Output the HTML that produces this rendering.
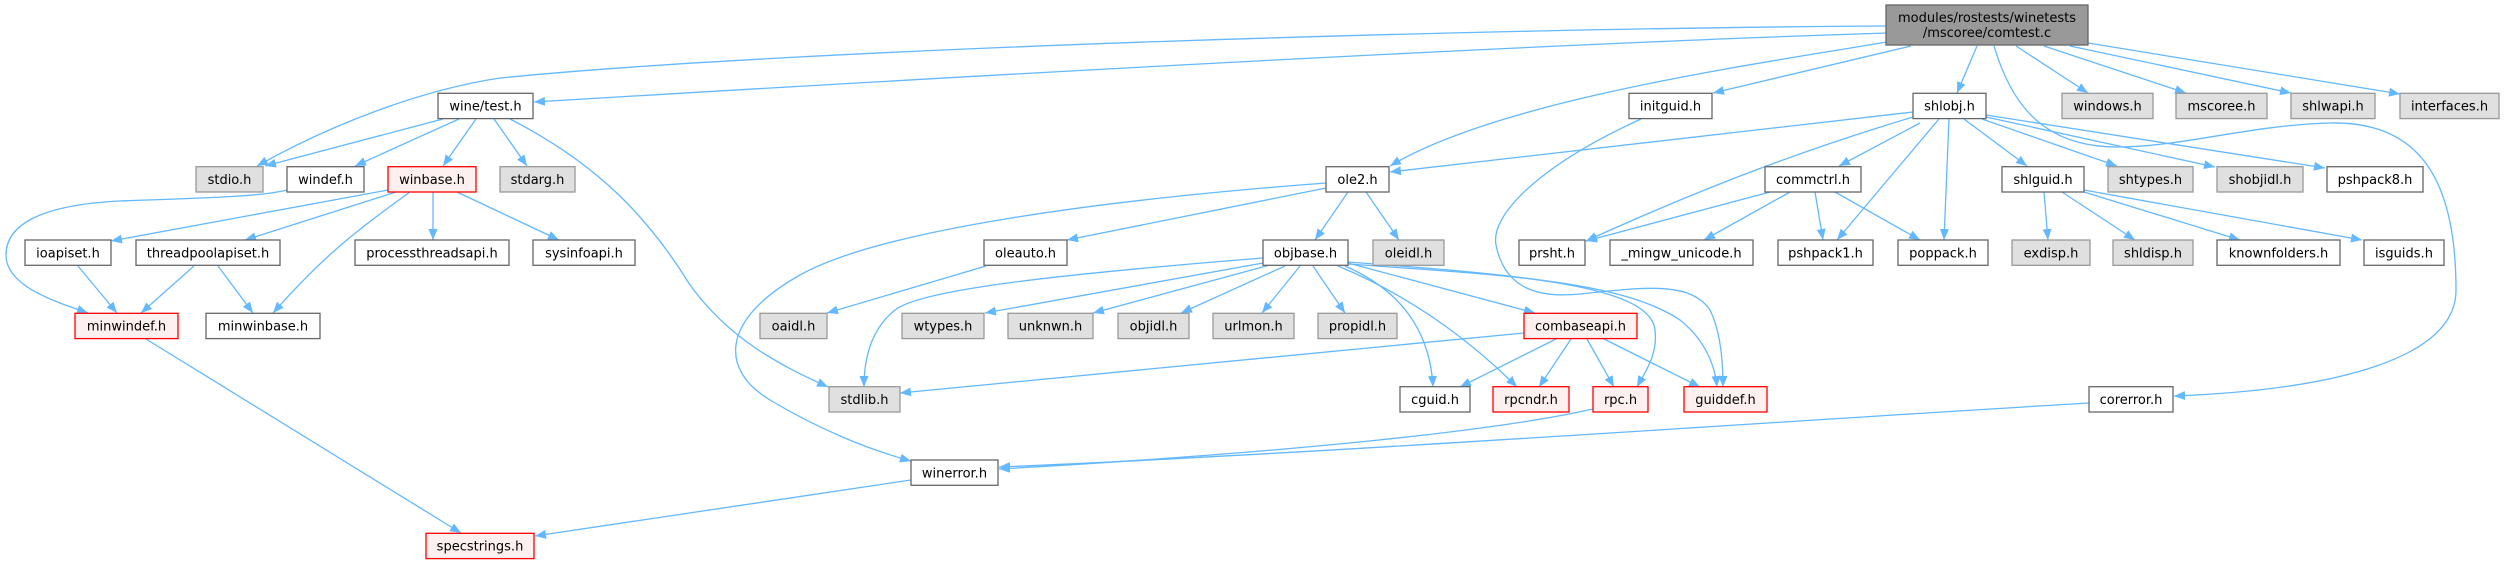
<!DOCTYPE html>
<html><head><meta charset="utf-8"><style>
html,body{margin:0;padding:0;background:#fff;}
svg{display:block;}
text{font-family:"DejaVu Sans","Liberation Sans",sans-serif;font-size:13px;fill:#000;text-anchor:middle;}
.e{fill:none;stroke:#63b8ff;stroke-width:1.3;marker-end:url(#a);}
.w{fill:#fff;stroke:#666;stroke-width:1.3;}
.g{fill:#e0e0e0;stroke:#999;stroke-width:1.3;}
.r{fill:#fff0f0;stroke:#ff0000;stroke-width:1.3;}
.m{fill:#999;stroke:#666;stroke-width:1.3;}
</style></head><body>
<svg width="2504" height="564" viewBox="0 0 2504 564" xmlns="http://www.w3.org/2000/svg">
<defs><marker id="a" markerWidth="12" markerHeight="10" refX="11" refY="4.5" orient="auto" markerUnits="userSpaceOnUse"><path d="M0,0 L11,4.5 L0,9 z" fill="#63b8ff"/></marker></defs>
<g>
<path class="e" d="M1887,26 C1500,28 800,48 500,78 C420,90 330,125 257,166"/>
<path class="e" d="M1887,33 C1500,45 900,80 534,102"/>
<path class="e" d="M1887,42 C1750,65 1500,100 1390,166"/>
<path class="e" d="M1911,46 L1713,93"/>
<path class="e" d="M1977,46 L1957,93"/>
<path class="e" d="M2016,46 L2088,93"/>
<path class="e" d="M2044,46 L2186,93"/>
<path class="e" d="M2070,46 L2291,93"/>
<path class="e" d="M2088,43 L2400,94"/>
<path class="e" d="M1994,46 C2010,100 2040,147 2117,147 C2182,147 2250,125 2330,123 C2420,121 2456,180 2456,290 C2456,360 2330,390 2174,396"/>
<path class="e" d="M443,119 L265,166"/>
<path class="e" d="M459,119 L355,166"/>
<path class="e" d="M476,119 L443,166"/>
<path class="e" d="M494,119 L527,166"/>
<path class="e" d="M510,119 C600,165 650,220 690,285 C730,340 780,365 828,387"/>
<path class="e" d="M287,190 C260,197 200,198 120,201 C40,205 6,225 6,255 C6,285 50,300 88,313"/>
<path class="e" d="M388,190 L111,241"/>
<path class="e" d="M396,192 L245,240"/>
<path class="e" d="M410,192 C350,235 320,260 273,313"/>
<path class="e" d="M433,192 L433,240"/>
<path class="e" d="M457,192 L559,240"/>
<path class="e" d="M78,266 L117,313"/>
<path class="e" d="M194,266 L141,313"/>
<path class="e" d="M218,266 L253,313"/>
<path class="e" d="M146,339 L461,533"/>
<path class="e" d="M1348,192 L1315,240"/>
<path class="e" d="M1366,192 L1399,240"/>
<path class="e" d="M1326,188 L1067,240"/>
<path class="e" d="M1326,183 C1100,200 880,230 800,275 C720,320 720,370 770,400 C820,430 870,450 911,461"/>
<path class="e" d="M986,266 L827,313"/>
<path class="e" d="M1263,258 C1050,275 920,290 895,310 C870,330 864,360 864,387"/>
<path class="e" d="M1263,263 L985,313"/>
<path class="e" d="M1270,265 L1093,313"/>
<path class="e" d="M1285,266 L1181,313"/>
<path class="e" d="M1300,266 L1262,313"/>
<path class="e" d="M1313,266 L1345,313"/>
<path class="e" d="M1345,266 C1400,290 1430,330 1433,387"/>
<path class="e" d="M1338,266 C1420,300 1480,350 1517,387"/>
<path class="e" d="M1348,263 L1535,313"/>
<path class="e" d="M1348,262 C1520,275 1650,285 1655,330 C1658,355 1645,372 1637,387"/>
<path class="e" d="M1348,264 C1500,275 1620,280 1680,320 C1705,340 1715,365 1717,387"/>
<path class="e" d="M1641,119 C1540,165 1490,215 1496,245 C1505,290 1540,298 1580,294 C1640,288 1690,280 1710,310 C1720,330 1723,360 1723,387"/>
<path class="e" d="M1524,333 L900,393"/>
<path class="e" d="M1556,339 L1460,387"/>
<path class="e" d="M1571,339 L1539,387"/>
<path class="e" d="M1587,339 L1614,387"/>
<path class="e" d="M1604,339 L1700,387"/>
<path class="e" d="M1593,409 C1500,430 1300,452 999,469"/>
<path class="e" d="M2089,403 C1800,420 1300,455 999,467"/>
<path class="e" d="M911,480 L535,536"/>
<path class="e" d="M1913,112 L1390,172"/>
<path class="e" d="M1913,117 C1820,145 1720,180 1586,241"/>
<path class="e" d="M1920,123 L1839,166"/>
<path class="e" d="M1939,119 L1837,240"/>
<path class="e" d="M1949,119 L1944,240"/>
<path class="e" d="M1964,119 L2027,166"/>
<path class="e" d="M1982,119 L2117,166"/>
<path class="e" d="M1986,117 L2215,167"/>
<path class="e" d="M1986,115 L2325,168"/>
<path class="e" d="M1770,192 L1586,241"/>
<path class="e" d="M1790,192 L1704,240"/>
<path class="e" d="M1815,192 L1823,240"/>
<path class="e" d="M1835,192 L1920,240"/>
<path class="e" d="M2044,192 L2048,240"/>
<path class="e" d="M2062,192 L2135,240"/>
<path class="e" d="M2084,192 L2240,240"/>
<path class="e" d="M2084,190 L2362,240"/>
</g>
<g>
<rect class="m" x="1886" y="5" width="202" height="40"/>
<text x="1987" y="22">modules/rostests/winetests</text>
<text x="1987" y="37">/mscoree/comtest.c</text>

<rect class="w" x="438" y="93.3" width="95" height="25.3"/><text x="485.5" y="110.6">wine/test.h</text>
<rect class="w" x="1629" y="93.3" width="83" height="25.3"/><text x="1670.5" y="110.6">initguid.h</text>
<rect class="w" x="1913" y="93.3" width="73" height="25.3"/><text x="1949.5" y="110.6">shlobj.h</text>
<rect class="g" x="2062" y="93.3" width="91" height="25.3"/><text x="2107.5" y="110.6">windows.h</text>
<rect class="g" x="2176" y="93.3" width="91" height="25.3"/><text x="2221.5" y="110.6">mscoree.h</text>
<rect class="g" x="2291" y="93.3" width="84" height="25.3"/><text x="2333" y="110.6">shlwapi.h</text>
<rect class="g" x="2400" y="93.3" width="99" height="25.3"/><text x="2449.5" y="110.6">interfaces.h</text>

<rect class="g" x="196" y="166.7" width="67" height="25.3"/><text x="229.5" y="184">stdio.h</text>
<rect class="w" x="287" y="166.7" width="77" height="25.3"/><text x="325.5" y="184">windef.h</text>
<rect class="r" x="388" y="166.7" width="88" height="25.3"/><text x="432" y="184">winbase.h</text>
<rect class="g" x="500" y="166.7" width="75" height="25.3"/><text x="537.5" y="184">stdarg.h</text>
<rect class="w" x="1326" y="166.7" width="63" height="25.3"/><text x="1357.5" y="184">ole2.h</text>
<rect class="w" x="1765" y="166.7" width="96" height="25.3"/><text x="1813" y="184">commctrl.h</text>
<rect class="w" x="2002" y="166.7" width="82" height="25.3"/><text x="2043" y="184">shlguid.h</text>
<rect class="g" x="2108" y="166.7" width="85" height="25.3"/><text x="2150.5" y="184">shtypes.h</text>
<rect class="g" x="2217" y="166.7" width="86" height="25.3"/><text x="2260" y="184">shobjidl.h</text>
<rect class="w" x="2327" y="166.7" width="96" height="25.3"/><text x="2375" y="184">pshpack8.h</text>

<rect class="w" x="25" y="240" width="86" height="25.3"/><text x="68" y="257.3">ioapiset.h</text>
<rect class="w" x="136" y="240" width="144" height="25.3"/><text x="208" y="257.3">threadpoolapiset.h</text>
<rect class="w" x="355" y="240" width="154" height="25.3"/><text x="432" y="257.3">processthreadsapi.h</text>
<rect class="w" x="533" y="240" width="102" height="25.3"/><text x="584" y="257.3">sysinfoapi.h</text>
<rect class="w" x="984" y="240" width="83" height="25.3"/><text x="1025.5" y="257.3">oleauto.h</text>
<rect class="w" x="1263" y="240" width="85" height="25.3"/><text x="1305.5" y="257.3">objbase.h</text>
<rect class="g" x="1373" y="240" width="71" height="25.3"/><text x="1408.5" y="257.3">oleidl.h</text>
<rect class="w" x="1519" y="240" width="66" height="25.3"/><text x="1552" y="257.3">prsht.h</text>
<rect class="w" x="1610" y="240" width="143" height="25.3"/><text x="1681.5" y="257.3">_mingw_unicode.h</text>
<rect class="w" x="1778" y="240" width="95" height="25.3"/><text x="1825.5" y="257.3">pshpack1.h</text>
<rect class="w" x="1898" y="240" width="90" height="25.3"/><text x="1943" y="257.3">poppack.h</text>
<rect class="g" x="2012" y="240" width="78" height="25.3"/><text x="2051" y="257.3">exdisp.h</text>
<rect class="g" x="2113" y="240" width="80" height="25.3"/><text x="2153" y="257.3">shldisp.h</text>
<rect class="w" x="2217" y="240" width="123" height="25.3"/><text x="2278.5" y="257.3">knownfolders.h</text>
<rect class="w" x="2364" y="240" width="80" height="25.3"/><text x="2404" y="257.3">isguids.h</text>

<rect class="r" x="75" y="313.3" width="103" height="25.3"/><text x="126.5" y="330.6">minwindef.h</text>
<rect class="w" x="206" y="313.3" width="114" height="25.3"/><text x="263" y="330.6">minwinbase.h</text>
<rect class="g" x="760" y="313.3" width="67" height="25.3"/><text x="793.5" y="330.6">oaidl.h</text>
<rect class="g" x="902" y="313.3" width="82" height="25.3"/><text x="943" y="330.6">wtypes.h</text>
<rect class="g" x="1008" y="313.3" width="85" height="25.3"/><text x="1050.5" y="330.6">unknwn.h</text>
<rect class="g" x="1118" y="313.3" width="71" height="25.3"/><text x="1153.5" y="330.6">objidl.h</text>
<rect class="g" x="1213" y="313.3" width="81" height="25.3"/><text x="1253.5" y="330.6">urlmon.h</text>
<rect class="g" x="1318" y="313.3" width="79" height="25.3"/><text x="1357.5" y="330.6">propidl.h</text>
<rect class="r" x="1524" y="313.3" width="113" height="25.3"/><text x="1580.5" y="330.6">combaseapi.h</text>

<rect class="g" x="829" y="386.7" width="71" height="25.3"/><text x="864.5" y="404">stdlib.h</text>
<rect class="w" x="1400" y="386.7" width="70" height="25.3"/><text x="1435" y="404">cguid.h</text>
<rect class="r" x="1493" y="386.7" width="76" height="25.3"/><text x="1531" y="404">rpcndr.h</text>
<rect class="r" x="1593" y="386.7" width="55" height="25.3"/><text x="1620.5" y="404">rpc.h</text>
<rect class="r" x="1684" y="386.7" width="83" height="25.3"/><text x="1725.5" y="404">guiddef.h</text>
<rect class="w" x="2089" y="386.7" width="84" height="25.3"/><text x="2131" y="404">corerror.h</text>

<rect class="w" x="911" y="460" width="87" height="25.3"/><text x="954.5" y="477.3">winerror.h</text>

<rect class="r" x="426" y="533.3" width="108" height="25.3"/><text x="480" y="550.6">specstrings.h</text>
</g>
</svg>
</body></html>
